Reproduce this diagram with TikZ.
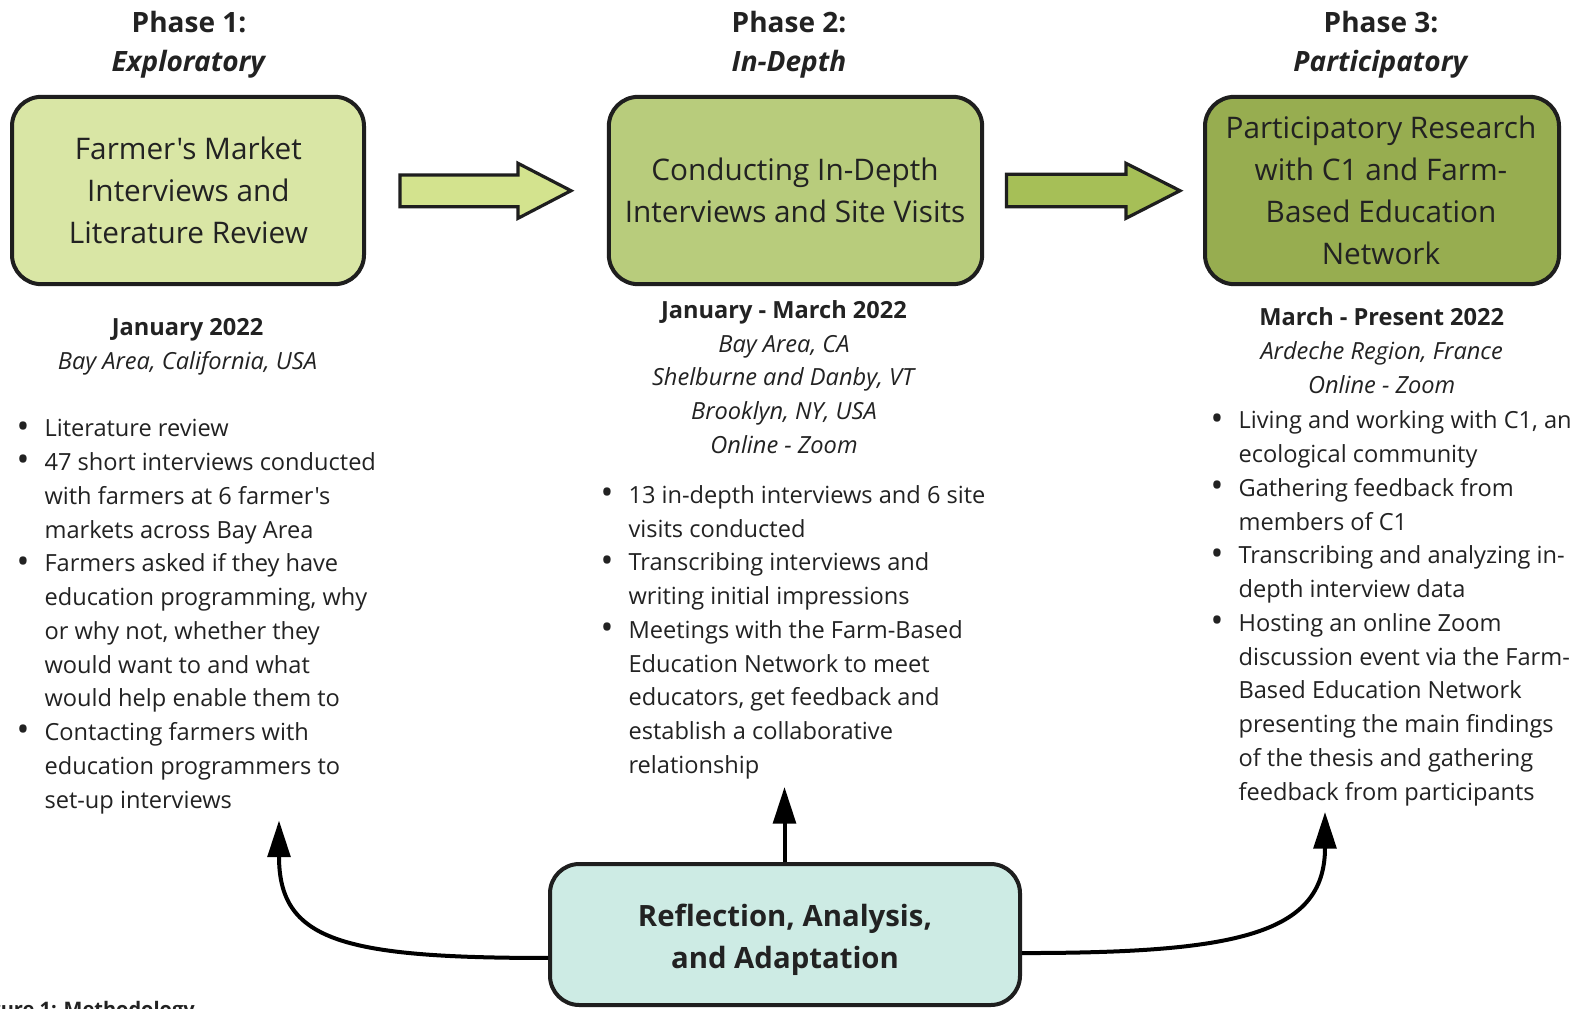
\documentclass[tikz,border=0pt]{standalone}
\usepackage{fontspec}
\setmainfont{Open Sans}[Ligatures=TeXOff]
\usetikzlibrary{arrows.meta,calc}

\definecolor{inkc}{HTML}{1E1E1E}
\definecolor{txtc}{HTML}{222222}
\definecolor{fillA}{HTML}{D9E6A5}
\definecolor{fillB}{HTML}{B8CC7C}
\definecolor{fillC}{HTML}{97AD50}
\definecolor{arrA}{HTML}{D3E38E}
\definecolor{arrB}{HTML}{A6BF57}
\definecolor{fillR}{HTML}{CDEBE4}

% bullet hung to the left of a list line
\newcommand\bl{\llap{\raisebox{-0.1ex}{\scalebox{1.45}{•}}\hspace{11.4pt}}}

\begin{document}
\begin{tikzpicture}[x=0.75pt,y=-0.75pt,
  phasebox/.style={draw=inkc, line width=3pt, rounded corners=22pt,
    minimum height=140.5pt, inner sep=0pt},
  boxtext/.style={anchor=base, align=center, text=txtc, inner sep=0pt,
    font=\fontsize{22.3}{31.5}\selectfont},
  phasetitle/.style={anchor=base, align=center, text=txtc,
    font=\bfseries\fontsize{21}{29.5}\selectfont},
  dateblock/.style={anchor=base, align=center, text=txtc,
    font=\fontsize{17.7}{25.3}\selectfont},
  bulletblock/.style={anchor=base west, align=left, text=txtc,
    font=\fontsize{17.7}{25.3}\selectfont, inner sep=0pt},
  blockarrow/.style={draw=inkc, line width=2.4pt, line join=miter},
  conn/.style={draw=black, line width=3pt,
    -{Triangle[length=27.5pt,width=17pt]}}]

\useasboundingbox (0,0) rectangle (1591,1008);
\fill[white] (0,0) rectangle (1591,1008);

% phase headings (multi-line nodes sit on the baseline of their last line)
\node[phasetitle] (h1) at (189,71.7) {Phase 1:\\\textit{Exploratory}};
\node[phasetitle] (h2) at (789,71.7) {Phase 2:\\\textit{In-Depth}};
\node[phasetitle] (h3) at (1381,71.7) {Phase 3:\\\textit{Participatory}};

% phase boxes and their titles
\node[phasebox, fill=fillA, minimum width=264pt] (b1) at (188,190.5) {};
\node[phasebox, fill=fillB, minimum width=280pt] (b2) at (795.5,190.5) {};
\node[phasebox, fill=fillC, minimum width=265.5pt] (b3) at (1382,190.5) {};
\node[boxtext] (b1t) at (188.4,243.2)
  {Farmer's Market\\Interviews and\\Literature Review};
\node[boxtext] (b2t) at (795,222.5)
  {Conducting In-Depth\\Interviews and Site Visits};
\node[boxtext] (b3t) at (1381,264.2)
  {Participatory Research\\with C1 and Farm-\\Based Education\\Network};

% block arrows between the phases
\draw[blockarrow, fill=arrA] (400,175) -- (518,175) -- (518,163.3) -- (571,190.7)
  -- (518,218.3) -- (518,206.7) -- (400,206.7) -- cycle;
\draw[blockarrow, fill=arrB] (1006.4,174.3) -- (1126,174.3) -- (1126,163.3) -- (1180,190.7)
  -- (1126,218.3) -- (1126,206.7) -- (1006.4,206.7) -- cycle;

% dates and places
\node[dateblock] (d1) at (187.5,369.3)
  {\textbf{January 2022}\\\textit{Bay Area, California, USA}};
\node[dateblock] (d2) at (784,453.3)
  {\textbf{January - March 2022}\\\textit{Bay Area, CA}\\\textit{Shelburne and Danby, VT}\\
   \textit{Brooklyn, NY, USA}\\\textit{Online - Zoom}};
\node[dateblock] (d3) at (1381.7,393.3)
  {\textbf{March - Present 2022}\\\textit{Ardeche Region, France}\\\textit{Online - Zoom}};

% activity lists
\node[bulletblock] (l1) at (44.3,808)
  {\bl Literature review\\
   \bl 47 short interviews conducted\\
   with farmers at 6 farmer's\\
   markets across Bay Area\\
   \bl Farmers asked if they have\\
   education programming, why\\
   or why not, whether they\\
   would want to and what\\
   would help enable them to\\
   \bl Contacting farmers with\\
   education programmers to\\
   set-up interviews};
\node[bulletblock] (l2) at (628.3,773.3)
  {\bl 13 in-depth interviews and 6 site\\
   visits conducted\\
   \bl Transcribing interviews and\\
   writing initial impressions\\
   \bl Meetings with the Farm-Based\\
   Education Network to meet\\
   educators, get feedback and\\
   establish a collaborative\\
   relationship};
\node[bulletblock] (l3) at (1238.3,800)
  {\bl Living and working with C1, an\\
   ecological community\\
   \bl Gathering feedback from\\
   members of C1\\
   \bl Transcribing and analyzing in-\\
   depth interview data\\
   \bl Hosting an online Zoom\\
   discussion event via the Farm-\\
   Based Education Network\\
   presenting the main findings\\
   of the thesis and gathering\\
   feedback from participants};

% reflection box
\node[phasebox, fill=fillR, minimum width=352.5pt, minimum height=105.75pt]
  (rf) at (785,934.5) {};
\node[boxtext, font=\bfseries\fontsize{22}{31.3}\selectfont] (rft) at (785,968)
  {Reflection, Analysis,\\and Adaptation};

% feedback connectors
\coordinate (t1) at (279,820.5);
\coordinate (t2) at (784.5,787);
\coordinate (t3) at (1325,812);
\draw[conn] (rf.north -| t2) -- (t2);
\draw[conn] ([yshift=-17.6pt]rf.west) .. controls (340,958) and (279,940) .. (t1);
\draw[conn] ([yshift=-13.9pt]rf.east) .. controls (1235,953) and (1325,935) .. (t3);

% caption
\node[anchor=base east, text=txtc, inner sep=0pt,
  font=\bfseries\fontsize{15}{18}\selectfont] (cap) at (195,1016)
  {Figure 1: Methodology};

\end{tikzpicture}
\end{document}
